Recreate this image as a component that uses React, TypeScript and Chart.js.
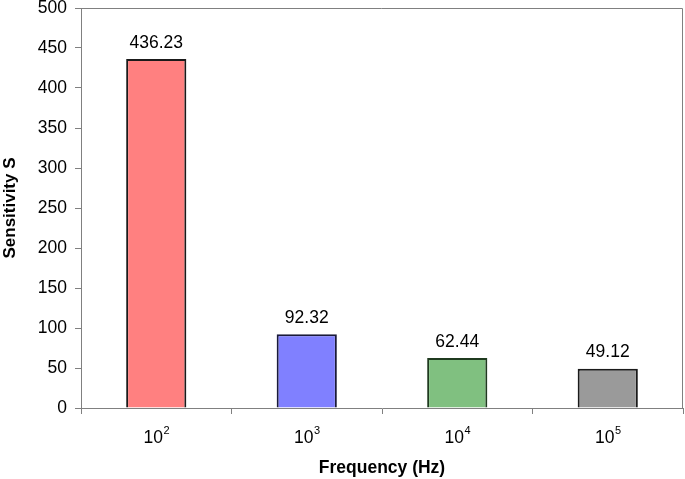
import React, { useEffect, useRef } from "react";
import { Chart, registerables } from "chart.js";

Chart.register(...registerables);

const categories = ["10²", "10³", "10⁴", "10⁵"];
const tickBase = ["10", "10", "10", "10"];
const tickExp = ["2", "3", "4", "5"];
const sensitivity = [436.23, 92.32, 62.44, 49.12];
const valueLabels = ["436.23", "92.32", "62.44", "49.12"];
const barColors = ["#FF8080", "#8080FF", "#80C080", "#9A9A9A"];
const borderColors = ["#1a1a1a", "#1a1a3a", "#1f3a1f", "#1a1a1a"];

const FONT = "Arial, 'Liberation Sans', sans-serif";
const FS = 17.5;

const frameAndLabels = {
  id: "frameAndLabels",
  afterDatasetsDraw(chart: any) {
    const { ctx, chartArea } = chart;
    ctx.save();
    ctx.strokeStyle = "#808080";
    ctx.lineWidth = 1;
    ctx.beginPath();
    ctx.moveTo(chartArea.left, chartArea.top + 0.5);
    ctx.lineTo(chartArea.right - 0.5, chartArea.top + 0.5);
    ctx.lineTo(chartArea.right - 0.5, chartArea.bottom);
    ctx.stroke();
    const meta = chart.getDatasetMeta(0);
    ctx.fillStyle = "#000";
    ctx.font = `${FS}px ${FONT}`;
    ctx.textAlign = "center";
    ctx.textBaseline = "alphabetic";
    meta.data.forEach((bar: any, i: number) => {
      ctx.fillText(valueLabels[i], bar.x, bar.y - 11.5);
    });
    // x tick labels with superscripts
    const xs = chart.scales.x;
    categories.forEach((_c, i) => {
      const cx = xs.getPixelForValue(i);
      ctx.font = `${FS}px ${FONT}`;
      const w1 = ctx.measureText(tickBase[i]).width;
      ctx.font = `11px ${FONT}`;
      const w2 = ctx.measureText(tickExp[i]).width;
      const start = cx - (w1 + w2) / 2;
      ctx.textAlign = "left";
      ctx.font = `${FS}px ${FONT}`;
      ctx.fillText(tickBase[i], start, 443);
      ctx.font = `11px ${FONT}`;
      ctx.fillText(tickExp[i], start + w1 + 0.5, 434);
    });
    ctx.restore();
  },
};

export default function App() {
  const ref = useRef<HTMLCanvasElement>(null);
  useEffect(() => {
    document.body.style.margin = "0";
    const chart = new Chart(ref.current!, {
      type: "bar",
      data: {
        labels: categories,
        datasets: [
          {
            data: sensitivity,
            backgroundColor: barColors,
            borderColor: borderColors,
            borderWidth: 2,
            categoryPercentage: 0.8,
            barPercentage: 0.5,
          },
        ],
      },
      options: {
        animation: false,
        responsive: false,
        maintainAspectRatio: false,
        layout: { padding: { top: 8, right: 2, left: 0, bottom: 0 } },
        plugins: { legend: { display: false }, tooltip: { enabled: false } },
        scales: {
          x: {
            offset: true,
            grid: {
              offset: true,
              drawOnChartArea: false,
              tickLength: 6,
              color: "#808080",
            },
            border: { color: "#808080", width: 1 },
            ticks: { color: "rgba(0,0,0,0)", font: { family: FONT, size: FS }, padding: 10, maxRotation: 0 },
            title: {
              display: true,
              text: "Frequency (Hz)",
              color: "#000",
              font: { family: FONT, size: 17.5, weight: "bold" },
              padding: { top: 8, bottom: 0 },
            },
            afterFit: (s: any) => {
              s.height = 71;
              s.paddingLeft = 0;
              s.paddingRight = 0;
            },
          },
          y: {
            min: 0,
            max: 500,
            ticks: { stepSize: 50, color: "#000", font: { family: FONT, size: FS }, padding: 8 },
            grid: { drawOnChartArea: false, tickLength: 6, color: "#808080" },
            border: { color: "#808080", width: 1 },
            title: {
              display: true,
              text: "Sensitivity S",
              color: "#000",
              font: { family: FONT, size: 17, weight: "bold" },
              padding: { top: 0, bottom: 5 },
            },
            afterFit: (s: any) => {
              s.width = 81;
              s.paddingTop = 0;
              s.paddingBottom = 0;
            },
          },
        },
      },
      plugins: [frameAndLabels],
    });
    return () => chart.destroy();
  }, []);
  return (
    <div style={{ position: "absolute", left: 0, top: 0, width: 685, height: 479, background: "#fff" }}>
      <canvas ref={ref} width={685} height={479} style={{ width: 685, height: 479 }} />
    </div>
  );
}
